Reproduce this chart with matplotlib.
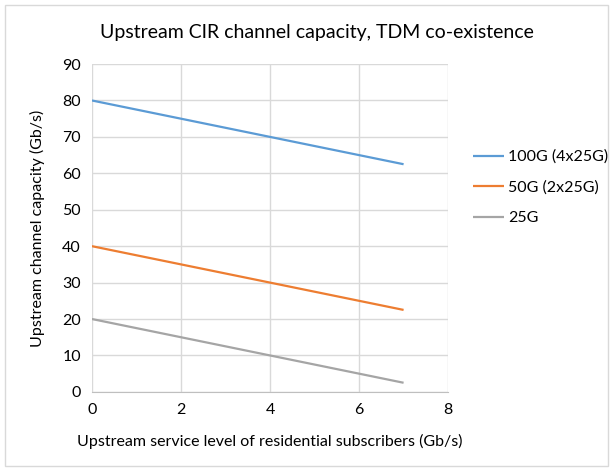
import matplotlib.pyplot as plt
from matplotlib.patches import Rectangle

# service level of residential subscribers (Gb/s)
service = [0, 1, 2, 3, 4, 5, 6, 7]
cap_100g = [80, 77.5, 75, 72.5, 70, 67.5, 65, 62.5]
cap_50g = [40, 37.5, 35, 32.5, 30, 27.5, 25, 22.5]
cap_25g = [20, 17.5, 15, 12.5, 10, 7.5, 5, 2.5]
labels = ["100G (4x25G)", "50G (2x25G)", "25G"]
colors = ["#5B9BD5", "#ED7D31", "#A5A5A5"]

plt.rcParams['font.family'] = ['Lato', 'DejaVu Sans']

fig = plt.figure(figsize=(6.13, 4.71), dpi=100)
fig.patches.append(Rectangle((0.008, 0.011), 0.984, 0.978, transform=fig.transFigure,
                             fill=False, edgecolor="#D9D9D9", linewidth=1))
ax = fig.add_axes([0.150, 0.168, 0.581, 0.696])

for y, lab, c in zip([cap_100g, cap_50g, cap_25g], labels, colors):
    ax.plot(service, y, color=c, linewidth=1.6, label=lab, solid_capstyle="butt")

ax.set_xlim(0, 8)
ax.set_ylim(0, 90)
ax.set_xticks(range(0, 9, 2))
ax.set_yticks(range(0, 91, 10))
ax.grid(True, color="#D9D9D9", linewidth=1)
ax.set_axisbelow(True)
for s in ["top", "right", "left"]:
    ax.spines[s].set_visible(False)
ax.spines["bottom"].set_color("#BFBFBF")
ax.tick_params(length=0, labelsize=11.5, colors="#000000", pad=8)

fig.text(0.517, 0.932, "Upstream CIR channel capacity, TDM co-existence",
         fontsize=14, ha="center", va="center")
ax.set_xlabel("Upstream service level of residential subscribers (Gb/s)", fontsize=11.5, labelpad=12)
ax.set_ylabel("Upstream channel capacity (Gb/s)", fontsize=11.5, labelpad=12)

fig.legend(loc="upper left", bbox_to_anchor=(0.772, 0.682), frameon=False,
           borderpad=0, borderaxespad=0,
           fontsize=11.5, handlelength=1.95, labelspacing=1.02, handletextpad=0.25)

fig.savefig("out.png", dpi=100)
